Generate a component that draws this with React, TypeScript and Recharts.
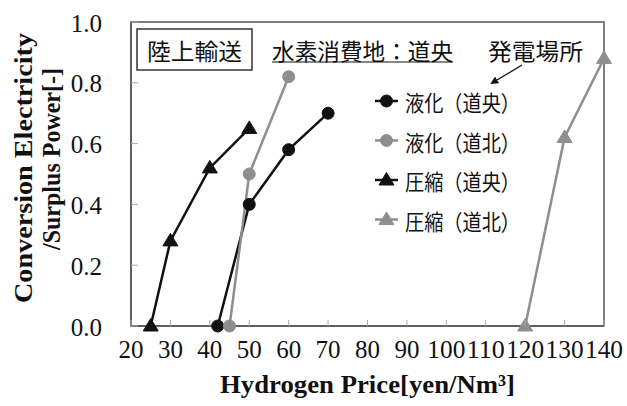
import React from 'react';
import { LineChart, Line, XAxis, YAxis, ReferenceArea, Legend } from 'recharts';

const xTicks = [20, 30, 40, 50, 60, 70, 80, 90, 100, 110, 120, 130, 140];
const yTicks = [0, 0.2, 0.4, 0.6, 0.8, 1.0];

const seriesNames = ['液化（道央）', '液化（道北）', '圧縮（道央）', '圧縮（道北）'];
const liqCentralX = [42, 50, 60, 70];
const liqCentralY = [0, 0.4, 0.58, 0.7];
const liqNorthX = [45, 50, 60];
const liqNorthY = [0, 0.5, 0.82];
const compCentralX = [25, 30, 40, 50];
const compCentralY = [0, 0.28, 0.52, 0.65];
const compNorthX = [120, 130, 140];
const compNorthY = [0, 0.62, 0.88];

const boxLabel = '陸上輸送';
const siteLabel = '水素消費地：道央';
const plantLabel = '発電場所';
const xTitle = 'Hydrogen Price[yen/Nm³]';
const yTitle1 = 'Conversion Electricity';
const yTitle2 = '/Surplus Power[-]';

const zip = (xs: number[], ys: number[]) => xs.map((x, i) => ({ x, y: ys[i] }));

const BLACK = '#111';
const GRAY = '#8e8e8e';
const seriesStyle = [
  { color: BLACK, shape: 'circle' },
  { color: GRAY, shape: 'circle' },
  { color: BLACK, shape: 'triangle' },
  { color: GRAY, shape: 'triangle' },
];

const SERIF = '"Liberation Serif", "Times New Roman", serif';
const CJK = '"Noto Sans CJK JP", "Noto Sans", sans-serif';

const Marker = ({ cx, cy, color, shape }: any) => {
  if (cx == null || cy == null) return null;
  if (shape === 'circle') return <circle cx={cx} cy={cy} r={6} fill={color} stroke={color} />;
  return (
    <polygon
      points={`${cx},${cy - 7.5} ${cx - 7.5},${cy + 5} ${cx + 7.5},${cy + 5}`}
      fill={color}
      stroke={color}
    />
  );
};

const makeDot = (idx: number) => (props: any) => (
  <Marker key={`${idx}-${props.index}`} cx={props.cx} cy={props.cy} color={seriesStyle[idx].color} shape={seriesStyle[idx].shape} />
);

const YTick = ({ x, y, payload }: any) => (
  <g>
    <line x1={x} x2={x + 7} y1={y} y2={y} stroke="#aaa" strokeWidth={1} />
    <text x={x - 29} y={y + 1} textAnchor="end" dominantBaseline="central" fontFamily={SERIF} fontSize={25} fill="#111">
      {Number(payload.value).toFixed(1)}
    </text>
  </g>
);

const XTick = ({ x, y, payload }: any) => {
  const s = String(payload.value);
  return (
    <g>
      <line x1={x} x2={x} y1={y} y2={y - 6} stroke="#aaa" strokeWidth={1} />
      <text
        x={x}
        y={y + 23}
        textAnchor="middle"
        dominantBaseline="central"
        fontFamily={SERIF}
        fontSize={25}
        fill="#111"
        {...(s.length > 2 ? { textLength: 38, lengthAdjust: 'spacingAndGlyphs' } : {})}
      >
        {s}
      </text>
    </g>
  );
};

const YLabel = ({ viewBox }: any) => {
  const cy = viewBox.y + viewBox.height / 2;
  const c1 = cy - 6;
  const c2 = cy - 15;
  return (
    <g fontFamily={SERIF} fontWeight="bold" fontSize={26} fill="#111">
      <text
        x={23}
        y={c1}
        transform={`rotate(-90, 23, ${c1})`}
        textAnchor="middle"
        dominantBaseline="central"
        textLength={270}
        lengthAdjust="spacingAndGlyphs"
      >
        {yTitle1}
      </text>
      <text
        x={51}
        y={c2}
        transform={`rotate(-90, 51, ${c2})`}
        textAnchor="middle"
        dominantBaseline="central"
        textLength={182}
        lengthAdjust="spacingAndGlyphs"
      >
        {yTitle2}
      </text>
    </g>
  );
};

const XLabel = ({ viewBox }: any) => (
  <text
    x={viewBox.x + viewBox.width / 2}
    y={384}
    textAnchor="middle"
    dominantBaseline="central"
    fontFamily={SERIF}
    fontWeight="bold"
    fontSize={26}
    fill="#111"
    textLength={295}
    lengthAdjust="spacingAndGlyphs"
  >
    {xTitle}
  </text>
);

const renderLegend = (props: any) => {
  const payload = [...(props.payload || [])].sort(
    (a: any, b: any) => seriesNames.indexOf(a.value) - seriesNames.indexOf(b.value)
  );
  return (
    <svg width={200} height={160} style={{ overflow: 'visible' }}>
      {payload.map((p: any, i: number) => {
        const idx = seriesNames.indexOf(p.value);
        const st = seriesStyle[idx >= 0 ? idx : i];
        const cy = 17 + i * 39.5;
        return (
          <g key={p.value}>
            <line x1={3} x2={26} y1={cy} y2={cy} stroke={st.color} strokeWidth={2.5} />
            <Marker cx={14.5} cy={cy} color={st.color} shape={st.shape} />
            <text
              x={33}
              y={cy}
              dominantBaseline="central"
              fontFamily={CJK}
              fontSize={22}
              fill="#111"
              textLength={115}
              lengthAdjust="spacingAndGlyphs"
            >
              {p.value}
            </text>
          </g>
        );
      })}
    </svg>
  );
};

export default function App() {
  const data = [
    zip(liqCentralX, liqCentralY),
    zip(liqNorthX, liqNorthY),
    zip(compCentralX, compCentralY),
    zip(compNorthX, compNorthY),
  ];
  return (
    <div style={{ position: 'absolute', left: 0, top: 0, width: 627, height: 406, background: '#fff' }}>
      <LineChart width={627} height={406} margin={{ top: 22, right: 23, bottom: 30, left: 0 }}>
        <ReferenceArea x1={20} x2={140} y1={0} y2={1} fill="none" stroke="#555" strokeWidth={1.5} />
        <XAxis
          type="number"
          dataKey="x"
          domain={[20, 140]}
          ticks={xTicks}
          interval={0}
          height={50}
          tickSize={0}
          tickMargin={0}
          tickLine={false}
          axisLine={{ stroke: '#555', strokeWidth: 1.5 }}
          tick={<XTick />}
          label={<XLabel />}
        />
        <YAxis
          type="number"
          domain={[0, 1]}
          ticks={yTicks}
          interval={0}
          width={131}
          tickSize={0}
          tickMargin={0}
          tickLine={false}
          axisLine={{ stroke: '#555', strokeWidth: 1.5 }}
          tick={<YTick />}
          label={<YLabel />}
        />
        <Legend
          layout="vertical"
          align="center"
          verticalAlign="middle"
          content={renderLegend}
          wrapperStyle={{ position: 'absolute', left: 372, top: 84, width: 200, height: 160 }}
        />
        {data.map((d, i) => (
          <Line
            key={seriesNames[i]}
            name={seriesNames[i]}
            data={d}
            dataKey="y"
            stroke={seriesStyle[i].color}
            strokeWidth={2.5}
            dot={makeDot(i)}
            activeDot={false}
            isAnimationActive={false}
            legendType="line"
          />
        ))}
      </LineChart>
      <svg
        width={627}
        height={406}
        style={{ position: 'absolute', left: 0, top: 0, pointerEvents: 'none' }}
      >
        <defs>
          <marker id="arrowHead" markerWidth="8" markerHeight="8" refX="6" refY="4" orient="auto" markerUnits="userSpaceOnUse">
            <path d="M0,0 L8,4 L0,8 z" fill="#111" />
          </marker>
        </defs>
        <rect x={137} y={29} width={115} height={41} fill="#fff" stroke="#333" strokeWidth={1.5} />
        <text x={147} y={50} dominantBaseline="central" fontFamily={CJK} fontSize={23} fill="#111" textLength={95} lengthAdjust="spacingAndGlyphs">
          {boxLabel}
        </text>
        <text x={272} y={50} dominantBaseline="central" fontFamily={CJK} fontSize={23} fill="#111" textLength={181} lengthAdjust="spacingAndGlyphs">
          {siteLabel}
        </text>
        <line x1={272} x2={453} y1={62} y2={62} stroke="#111" strokeWidth={1.2} />
        <text x={488} y={50} dominantBaseline="central" fontFamily={CJK} fontSize={23} fill="#111" textLength={95} lengthAdjust="spacingAndGlyphs">
          {plantLabel}
        </text>
        <line x1={522} y1={65} x2={492} y2={83} stroke="#111" strokeWidth={1.3} markerEnd="url(#arrowHead)" />
      </svg>
    </div>
  );
}
